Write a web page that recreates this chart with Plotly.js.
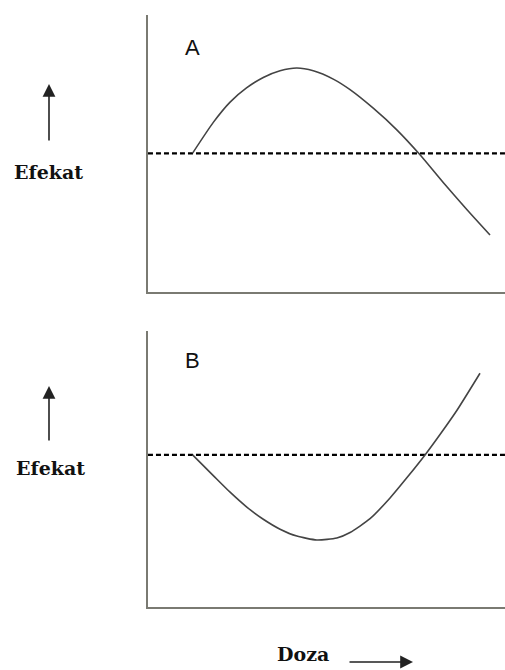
<!DOCTYPE html>
<html>
<head>
<meta charset="utf-8">
<script src="https://cdn.plot.ly/plotly-3.0.1.min.js"></script>
<style>
  html, body { margin: 0; padding: 0; background: #fff; }
  #plot { width: 505px; height: 670px; }
</style>
</head>
<body>
<div id="plot"></div>
<script>
// panel A: effect rises above baseline, then falls below it
var doseA = [1.25, 1.83, 2.30, 2.76, 3.23, 3.70, 4.17, 4.63, 5.19, 5.66, 6.31, 6.97, 7.62, 8.27, 8.93, 9.58];
var effectA = [5.01, 6.12, 6.85, 7.36, 7.74, 7.98, 8.08, 7.98, 7.68, 7.30, 6.63, 5.85, 4.95, 3.95, 2.98, 2.06];
var baselineA = 5.0;

// panel B: effect drops below baseline, then rises above it
var doseB = [1.25, 1.83, 2.30, 2.76, 3.23, 3.70, 4.17, 4.73, 5.29, 5.66, 6.22, 6.78, 7.25, 7.76, 8.18, 8.65, 9.30];
var effectB = [5.51, 4.76, 4.16, 3.63, 3.18, 2.82, 2.57, 2.43, 2.50, 2.70, 3.20, 3.95, 4.68, 5.51, 6.25, 7.12, 8.47];
var baselineB = 5.51;

var doseRange = [0, 10];
var panelLabels = ['A', 'B'];
var yLabel = 'Efekat';
var xLabel = 'Doza';

var curveStyle = { color: '#444', width: 1.6, shape: 'spline', smoothing: 0.6 };
var dashStyle = { color: '#000', width: 2.2, dash: '5px,3px' };

var data = [
    { x: doseRange, y: [baselineA, baselineA], mode: 'lines', line: dashStyle, xaxis: 'x', yaxis: 'y' },
    { x: doseA, y: effectA, mode: 'lines', line: curveStyle, xaxis: 'x', yaxis: 'y' },
    { x: doseRange, y: [baselineB, baselineB], mode: 'lines', line: dashStyle, xaxis: 'x2', yaxis: 'y2' },
    { x: doseB, y: effectB, mode: 'lines', line: curveStyle, xaxis: 'x2', yaxis: 'y2' }
];

function bareAxis(domain, anchor) {
    return {
        domain: domain,
        anchor: anchor,
        range: [0, 10],
        showgrid: false,
        zeroline: false,
        showticklabels: false,
        ticks: '',
        showline: true,
        linecolor: '#7a7a72',
        linewidth: 2,
        fixedrange: true
    };
}

var labelFont = { family: 'Liberation Sans, Arial, sans-serif', size: 22, color: '#111' };
var serifFont = { family: 'DejaVu Serif, serif', size: 19, color: '#111', weight: 'bold' };

function label(x, y, text, font) {
    return {
        xref: 'paper', yref: 'paper', x: x, y: y, text: text,
        xanchor: 'center', yanchor: 'middle', showarrow: false, font: font
    };
}

function arrow(x, y, ax, ay) {
    return {
        xref: 'paper', yref: 'paper', x: x, y: y,
        ax: ax, ay: ay, text: '', showarrow: true,
        arrowhead: 2, arrowsize: 1.6, arrowwidth: 1.6,
        arrowcolor: '#222', standoff: 0
    };
}

var layout = {
    width: 505,
    height: 670,
    margin: { l: 0, r: 0, t: 0, b: 0 },
    paper_bgcolor: '#fff',
    plot_bgcolor: '#fff',
    showlegend: false,
    xaxis: bareAxis([0.293, 1], 'y'),
    yaxis: bareAxis([0.564, 0.978], 'x'),
    xaxis2: bareAxis([0.293, 1], 'y2'),
    yaxis2: bareAxis([0.094, 0.506], 'x2'),
    annotations: [
        label(0.382, 1 - 48 / 670, panelLabels[0], labelFont),
        label(0.382, 1 - 361 / 670, panelLabels[1], labelFont),
        label(48 / 505, 1 - 172 / 670, yLabel, serifFont),
        label(50 / 505, 1 - 468 / 670, yLabel, serifFont),
        label(303 / 505, 1 - 654 / 670, xLabel, serifFont),
        arrow(49 / 505, 1 - 84 / 670, 0, 58),
        arrow(49 / 505, 1 - 386 / 670, 0, 56),
        arrow(413 / 505, 1 - 662 / 670, -65, 0)
    ]
};

Plotly.newPlot('plot', data, layout, { displayModeBar: false, staticPlot: true });
</script>
</body>
</html>
